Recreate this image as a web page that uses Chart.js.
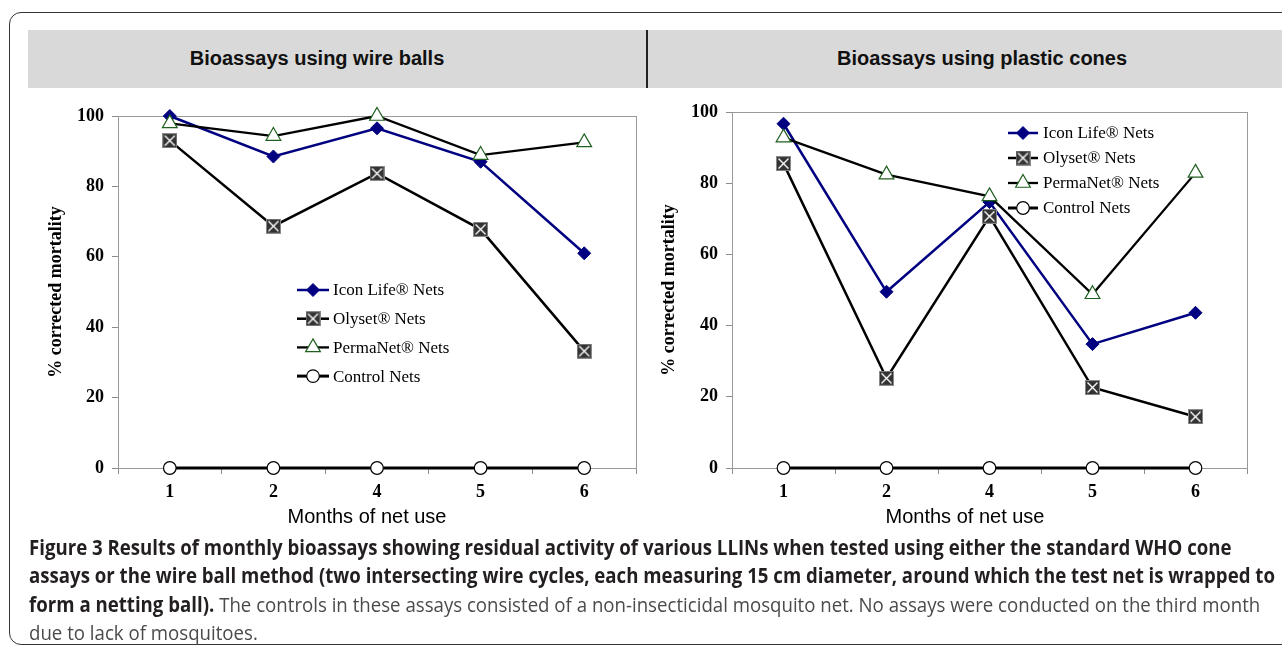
<!DOCTYPE html>
<html lang="en">
<head>
<meta charset="UTF-8">
<title>Figure 3 - monthly bioassays</title>
<script src="https://cdn.jsdelivr.net/npm/chart.js"></script>
<style>
  html, body { margin: 0; padding: 0; background: #fff; }
  body { width: 1282px; height: 647px; position: relative; overflow: hidden; font-family: "Liberation Sans", Arial, sans-serif; }
  .frame { position: absolute; left: 9px; top: 12px; width: 1320px; height: 633px; border: 1.5px solid #333; border-radius: 12px; box-sizing: border-box; }
  .band { position: absolute; left: 28px; top: 30px; width: 1254px; height: 58px; background: #d9d9d9; }
  .divider { position: absolute; left: 646px; top: 30px; width: 2px; height: 58px; background: #222; }
  .head { position: absolute; top: 29px; height: 58px; line-height: 58px; font-weight: bold; font-size: 20px; text-align: center; color: #111; }
  .chart-box { position: absolute; top: 90px; }
  .xtitle { position: absolute; top: 505px; font-size: 20px; transform: translateX(-50%); white-space: nowrap; color: #000; }
  .caption { position: absolute; left: 29px; top: 533px; font-family: "Open Sans", sans-serif; font-size: 20.5px; line-height: 28.3px; white-space: nowrap; transform-origin: 0 0; }
  .caption b { color: #231f20; }
  .caption .reg { color: #4a4a4a; font-weight: 400; }
</style>
</head>
<body>
  <div class="frame"></div>
  <div class="band"></div>
  <div class="divider"></div>
  <div class="head" style="left:0; width:634px;">Bioassays using wire balls</div>
  <div class="head" style="left:700px; width:564px;">Bioassays using plastic cones</div>

  <div class="chart-box" style="left:0;"><canvas id="wireChart" width="660" height="450"></canvas></div>
  <div class="chart-box" style="left:640px;"><canvas id="coneChart" width="642" height="450"></canvas></div>

  <div class="xtitle" style="left:367px;">Months of net use</div>
  <div class="xtitle" style="left:965px;">Months of net use</div>

  <div class="caption" id="caption">
    <div><b>Figure 3 Results of monthly bioassays showing residual activity of various LLINs when tested using either the standard WHO cone</b></div>
    <div id="capLine2"><b>assays or the wire ball method (two intersecting wire cycles, each measuring 15 cm diameter, around which the test net is wrapped to</b></div>
    <div><b>form a netting ball).</b><span class="reg"> The controls in these assays consisted of a non-insecticidal mosquito net. No assays were conducted on the third month</span></div>
    <div><span class="reg">due to lack of mosquitoes.</span></div>
  </div>

<script>
// months of net use (no assays in month 3)
const months = ['1', '2', '4', '5', '6'];
const seriesNames = ['Icon Life® Nets', 'Olyset® Nets', 'PermaNet® Nets', 'Control Nets'];

// wire balls
const wireIcon = [100, 88.5, 96.5, 87, 61];
const wireOlyset = [93, 68.7, 83.7, 67.8, 33.2];
const wirePerma = [97.9, 94.3, 100, 88.9, 92.5];
const wireControl = [0, 0, 0, 0, 0];

// plastic cones
const coneIcon = [96.7, 49.5, 74.7, 34.8, 43.6];
const coneOlyset = [85.5, 25.2, 70.7, 22.6, 14.4];
const conePerma = [92.8, 82.4, 76.3, 48.8, 82.9];
const coneControl = [0, 0, 0, 0, 0];

// dark square with white cross, used as the Olyset marker
function makeCrossBox(size) {
    const c = document.createElement('canvas');
    c.width = size; c.height = size;
    const g = c.getContext('2d');
    g.fillStyle = '#333';
    g.fillRect(0, 0, size, size);
    g.strokeStyle = '#8a8a8a';
    g.lineWidth = 1;
    g.strokeRect(0.5, 0.5, size - 1, size - 1);
    g.strokeStyle = '#fff';
    g.lineWidth = 1.4;
    g.beginPath();
    g.moveTo(2.5, 2.5); g.lineTo(size - 2.5, size - 2.5);
    g.moveTo(size - 2.5, 2.5); g.lineTo(2.5, size - 2.5);
    g.stroke();
    return c;
}
const crossBox = makeCrossBox(15);

function makeSets(icon, olyset, perma, control) {
    return [
        { label: seriesNames[0], data: icon, borderColor: '#000080', borderWidth: 2.5,
          pointStyle: 'rectRot', pointRadius: 6.5, pointBorderWidth: 1,
          pointBackgroundColor: '#000080', pointBorderColor: '#000080', order: 3, clip: false },
        { label: seriesNames[1], data: olyset, borderColor: '#000', borderWidth: 2.5,
          pointStyle: crossBox, pointRadius: 8, order: 2, clip: false },
        { label: seriesNames[2], data: perma, borderColor: '#000', borderWidth: 2.3,
          pointStyle: 'triangle', pointRadius: 8.5, pointBorderWidth: 1.2,
          pointBackgroundColor: '#fff', pointBorderColor: '#1f5f1f', order: 1, clip: false },
        { label: seriesNames[3], data: control, borderColor: '#000', borderWidth: 3,
          pointStyle: 'circle', pointRadius: 6.3, pointBorderWidth: 1.2,
          pointBackgroundColor: '#fff', pointBorderColor: '#000', order: 0, clip: false }
    ];
}

// gray frame round the plot area
const plotBox = {
    id: 'plotBox',
    beforeDatasetsDraw(chart) {
        const a = chart.chartArea;
        const ctx = chart.ctx;
        ctx.save();
        ctx.strokeStyle = '#9a9a9a';
        ctx.lineWidth = 1;
        ctx.strokeRect(Math.round(a.left) + 0.5, Math.round(a.top) + 0.5, a.right - a.left, a.bottom - a.top);
        ctx.restore();
    }
};

// legend rows drawn as line + marker, like the original
const rowLegend = {
    id: 'rowLegend',
    afterDraw(chart, args, opts) {
        const ctx = chart.ctx;
        ctx.save();
        chart.data.datasets.forEach((ds, i) => {
            const y = opts.y + i * opts.gap;
            ctx.strokeStyle = ds.borderColor;
            ctx.lineWidth = ds.borderWidth;
            ctx.beginPath();
            ctx.moveTo(opts.x, y);
            ctx.lineTo(opts.x + opts.len, y);
            ctx.stroke();
            ctx.fillStyle = ds.pointBackgroundColor || ds.borderColor;
            ctx.strokeStyle = ds.pointBorderColor || ds.borderColor;
            ctx.lineWidth = ds.pointBorderWidth || 1;
            Chart.helpers.drawPoint(ctx, {
                pointStyle: ds.pointStyle, radius: ds.pointRadius, rotation: 0, borderWidth: ctx.lineWidth
            }, opts.x + opts.len / 2, y);
            ctx.fillStyle = '#000';
            ctx.font = '17px "Liberation Serif", "Times New Roman", serif';
            ctx.textBaseline = 'middle';
            ctx.fillText(ds.label, opts.x + opts.len + opts.pad, y + 1);
        });
        ctx.restore();
    }
};

const serifBold = { family: '"Liberation Serif", "Times New Roman", serif', weight: 'bold', size: 18 };

function makeOptions(cfg) {
    return {
        responsive: false,
        animation: false,
        layout: { padding: cfg.padding },
        plugins: {
            legend: { display: false },
            tooltip: { enabled: false },
            rowLegend: cfg.legend
        },
        scales: {
            x: {
                type: 'category',
                offset: true,
                grid: { offset: true, drawOnChartArea: false, color: '#8c8c8c', tickLength: 6 },
                border: { color: '#8c8c8c' },
                ticks: { font: serifBold, color: '#000', padding: 8, maxRotation: 0 },
                afterFit(s) { s.height = cfg.xh; }
            },
            y: {
                min: 0,
                max: 100,
                ticks: { stepSize: 20, font: serifBold, color: '#000', padding: 8 },
                grid: { drawOnChartArea: false, color: '#8c8c8c', tickLength: 6 },
                border: { color: '#8c8c8c' },
                title: {
                    display: true,
                    text: '% corrected mortality',
                    color: '#000',
                    font: { family: '"Liberation Serif", "Times New Roman", serif', weight: 'bold', size: 18 },
                    padding: { top: cfg.ytp, bottom: 0 }
                },
                afterFit(s) { s.width = cfg.yw; }
            }
        }
    };
}

new Chart(document.getElementById('wireChart'), {
    type: 'line',
    data: { labels: months, datasets: makeSets(wireIcon, wireOlyset, wirePerma, wireControl) },
    options: makeOptions({
        padding: { left: 0, top: 26, right: 24, bottom: 0 },
        xh: 72, yw: 118, ytp: 46,
        legend: { x: 297, y: 200, gap: 28.7, len: 32, pad: 4 }
    }),
    plugins: [plotBox, rowLegend]
});

new Chart(document.getElementById('coneChart'), {
    type: 'line',
    data: { labels: months, datasets: makeSets(coneIcon, coneOlyset, conePerma, coneControl) },
    options: makeOptions({
        padding: { left: 0, top: 22, right: 35, bottom: 0 },
        xh: 72, yw: 92, ytp: 19,
        legend: { x: 368, y: 43, gap: 25, len: 30, pad: 5 }
    }),
    plugins: [plotBox, rowLegend]
});

// squeeze the caption so the second line spans the frame like the original
const cap = document.getElementById('caption');
const line2 = document.getElementById('capLine2').firstChild;
const k = 1246 / line2.getBoundingClientRect().width;
cap.style.transform = 'scaleX(' + k.toFixed(4) + ')';
</script>
</body>
</html>
